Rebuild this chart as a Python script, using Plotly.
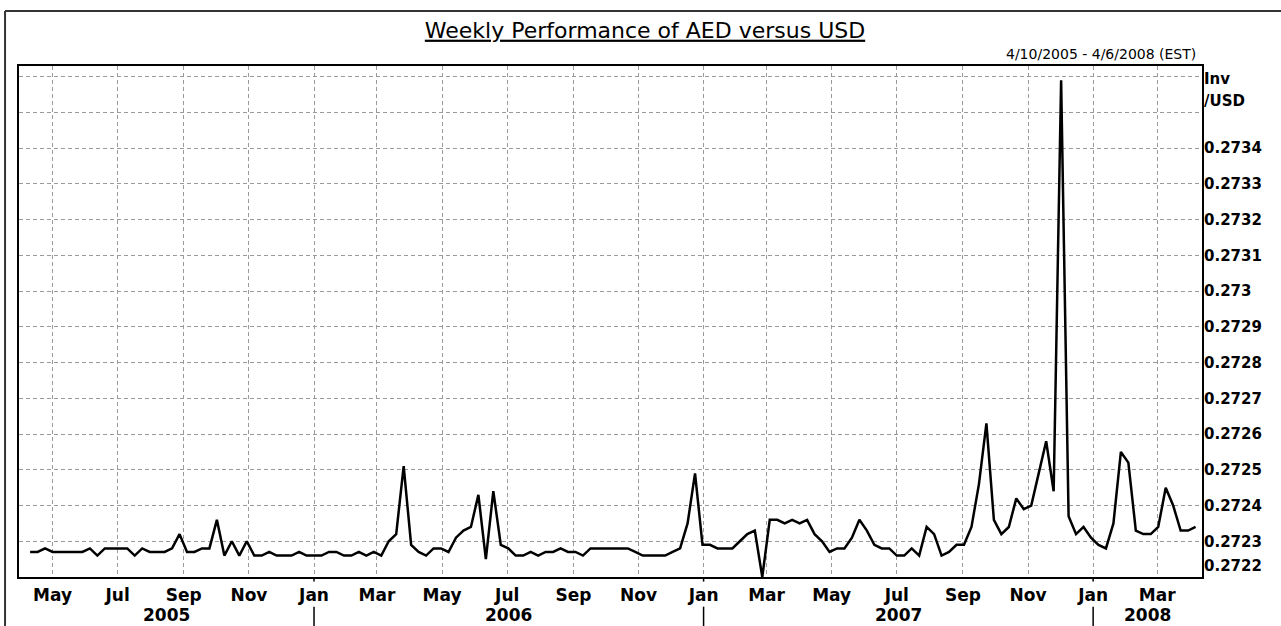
import pandas as pd
import plotly.graph_objects as go

# ---- data (weekly AED->USD) ----
START_DATE = "2005-04-10"
VALUES = [
    0.27227, 0.27227, 0.27228, 0.27227, 0.27227, 0.27227, 0.27227, 0.27227, 0.27228, 0.27226,
    0.27228, 0.27228, 0.27228, 0.27228, 0.27226, 0.27228, 0.27227, 0.27227, 0.27227, 0.27228,
    0.27232, 0.27227, 0.27227, 0.27228, 0.27228, 0.27236, 0.27226, 0.27230, 0.27226, 0.27230,
    0.27226, 0.27226, 0.27227, 0.27226, 0.27226, 0.27226, 0.27227, 0.27226, 0.27226,
    0.27226, 0.27227, 0.27227, 0.27226, 0.27226, 0.27227, 0.27226, 0.27227, 0.27226, 0.27230,
    0.27232, 0.27251, 0.27229, 0.27227, 0.27226, 0.27228, 0.27228, 0.27227, 0.27231, 0.27233,
    0.27234, 0.27243, 0.27225, 0.27244, 0.27229, 0.27228, 0.27226, 0.27226, 0.27227, 0.27226,
    0.27227, 0.27227, 0.27228, 0.27227, 0.27227, 0.27226, 0.27228, 0.27228, 0.27228, 0.27228,
    0.27228, 0.27228, 0.27227, 0.27226, 0.27226, 0.27226, 0.27226, 0.27227, 0.27228, 0.27235,
    0.27249, 0.27229, 0.27229, 0.27228, 0.27228, 0.27228, 0.27230, 0.27232, 0.27233, 0.27220,
    0.27236, 0.27236, 0.27235, 0.27236, 0.27235, 0.27236, 0.27232, 0.27230, 0.27227, 0.27228,
    0.27228, 0.27231, 0.27236, 0.27233, 0.27229, 0.27228, 0.27228, 0.27226, 0.27226,
    0.27228, 0.27226, 0.27234, 0.27232, 0.27226, 0.27227, 0.27229, 0.27229, 0.27234, 0.27246,
    0.27263, 0.27236, 0.27232, 0.27234, 0.27242, 0.27239, 0.27240, 0.27249, 0.27258, 0.27244,
    0.27359, 0.27237, 0.27232, 0.27234, 0.27231, 0.27229, 0.27228, 0.27235, 0.27255, 0.27252,
    0.27233, 0.27232, 0.27232, 0.27234, 0.27245, 0.27240, 0.27233, 0.27233, 0.27234,
]
DATES = pd.date_range(start=START_DATE, periods=len(VALUES), freq="7D")

MONTH_TICKS = ["2005-05-01", "2005-07-01", "2005-09-01", "2005-11-01",
               "2006-01-01", "2006-03-01", "2006-05-01", "2006-07-01", "2006-09-01", "2006-11-01",
               "2007-01-01", "2007-03-01", "2007-05-01", "2007-07-01", "2007-09-01", "2007-11-01",
               "2008-01-01", "2008-03-01"]
MONTH_LABELS = ["May", "Jul", "Sep", "Nov",
                "Jan", "Mar", "May", "Jul", "Sep", "Nov",
                "Jan", "Mar", "May", "Jul", "Sep", "Nov",
                "Jan", "Mar"]
YEAR_LABELS = ["2005", "2006", "2007", "2008"]
YEAR_STARTS = ["2006-01-01", "2007-01-01", "2008-01-01"]

Y_TICKS = [0.2722, 0.2723, 0.2724, 0.2725, 0.2726, 0.2727, 0.2728, 0.2729,
           0.2730, 0.2731, 0.2732, 0.2733, 0.2734, 0.2735, 0.2736]
Y_LABELS = ["", "0.2723", "0.2724", "0.2725", "0.2726", "0.2727", "0.2728", "0.2729",
            "0.273", "0.2731", "0.2732", "0.2733", "0.2734", "", ""]
Y_BOTTOM_LABEL = "0.2722"

TITLE = "Weekly Performance of AED versus USD"
SUBTITLE = "4/10/2005 - 4/6/2008 (EST)"

X_RANGE = ["2005-03-30 14:00", "2008-04-12"]
Y_RANGE = [0.2722, 0.27363]

# ---- figure ----
FONT = "DejaVu Sans"
GRID = "#9a9a9a"

fig = go.Figure()
fig.add_trace(go.Scatter(x=DATES, y=VALUES, mode="lines",
                         line=dict(color="black", width=2.5), hoverinfo="x+y"))

fig.update_layout(
    width=1281, height=626,
    margin=dict(l=19, r=79, t=66, b=49),
    paper_bgcolor="white", plot_bgcolor="white",
    showlegend=False,
    title=dict(text="<u>" + TITLE + "</u>", xref="container", x=645 / 1281, xanchor="center",
               yref="container", y=1 - 30 / 626, yanchor="middle",
               font=dict(family=FONT, size=22, color="black")),
    xaxis=dict(type="date", range=X_RANGE, tickmode="array", tickvals=MONTH_TICKS,
               ticktext=MONTH_LABELS, ticks="", ticklabelstandoff=2,
               tickfont=dict(family=FONT, size=17, color="black", weight="bold"),
               showgrid=True, gridcolor=GRID, griddash="4px,3px", gridwidth=1,
               showline=True, mirror=True, linecolor="black", linewidth=2, zeroline=False),
    yaxis=dict(side="right", range=Y_RANGE, tickmode="array", tickvals=Y_TICKS,
               ticktext=Y_LABELS, ticks="", ticklabelstandoff=-3,
               tickfont=dict(family=FONT, size=15, color="black", weight="bold"),
               showgrid=True, gridcolor=GRID, griddash="4px,3px", gridwidth=1,
               showline=True, mirror=True, linecolor="black", linewidth=2, zeroline=False),
)

annotations = [
    dict(text=SUBTITLE, xref="paper", x=1, xanchor="right", xshift=-4,
         yref="paper", y=1, yanchor="bottom", yshift=2, showarrow=False,
         font=dict(family=FONT, size=14, color="black")),
    dict(text="Inv", xref="paper", x=1, xanchor="left", xshift=0,
         yref="paper", y=1, yanchor="top", yshift=-2, showarrow=False,
         font=dict(family=FONT, size=15, color="black", weight="bold")),
    dict(text="/USD", xref="paper", x=1, xanchor="left", xshift=0,
         yref="paper", y=1, yanchor="top", yshift=-24, showarrow=False,
         font=dict(family=FONT, size=15, color="black", weight="bold")),
    dict(text=Y_BOTTOM_LABEL, xref="paper", x=1, xanchor="left", xshift=0,
         yref="y", y=Y_TICKS[0], yanchor="middle", yshift=11, showarrow=False,
         font=dict(family=FONT, size=15, color="black", weight="bold")),
]

# year labels centred on each year's visible span
bounds = [pd.Timestamp(X_RANGE[0])] + [pd.Timestamp(d) for d in YEAR_STARTS] + [pd.Timestamp(X_RANGE[1])]
for i, label in enumerate(YEAR_LABELS):
    mid = bounds[i] + (bounds[i + 1] - bounds[i]) / 2
    annotations.append(dict(text=label, xref="x", x=mid, xanchor="center",
                            yref="paper", y=0, yanchor="top", yshift=-26, showarrow=False,
                            font=dict(family=FONT, size=17, color="black", weight="bold")))
fig.update_layout(annotations=annotations)

shapes = []
for d in YEAR_STARTS:
    shapes.append(dict(type="line", xref="x", x0=d, x1=d, yref="paper", y0=-0.058, y1=-0.1,
                       line=dict(color="black", width=1.5)))
    shapes.append(dict(type="line", xref="x", x0=d, x1=d, yref="paper", y0=0, y1=-0.009,
                       line=dict(color="black", width=1.5)))
# outer frame (top and left edges)
shapes.append(dict(type="line", xref="paper", yref="paper", x0=-0.0118, x1=1.08, y0=1.1076, y1=1.1076,
                   line=dict(color="#333333", width=2)))
shapes.append(dict(type="line", xref="paper", yref="paper", x0=-0.0118, x1=-0.0118, y0=1.1076, y1=-0.1,
                   line=dict(color="#333333", width=2)))
fig.update_layout(shapes=shapes)

fig.write_html("out.html", config={"displayModeBar": False},
               post_script="document.body.style.margin='0';")
